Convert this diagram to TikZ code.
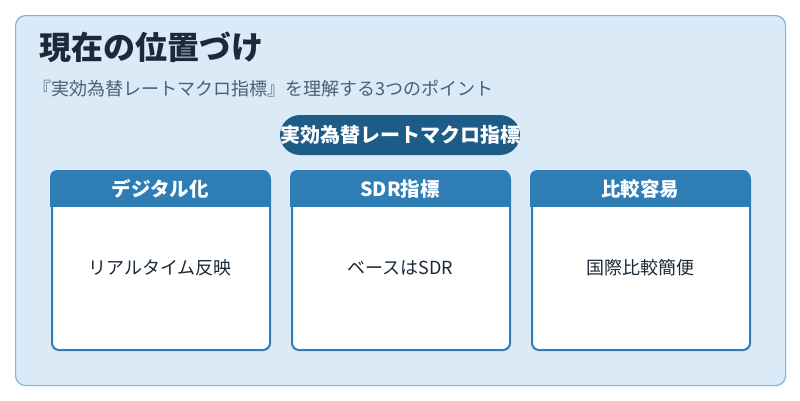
\documentclass[tikz,border=0pt]{standalone}
\usepackage{fontspec}
\setmainfont{Noto Sans CJK JP}
\definecolor{bg}{HTML}{DAEAF6}
\definecolor{frame}{HTML}{7FB3D8}
\definecolor{pill}{HTML}{1E5C88}
\definecolor{head}{HTML}{2E7DB5}
\definecolor{titlec}{HTML}{1B2A38}
\definecolor{subc}{HTML}{4A6074}
\tikzset{
  cardbox/.style={draw=head,line width=2pt,fill=white,rounded corners=7pt,minimum width=218pt,minimum height=178pt,anchor=north west},
  headbox/.style={fill=head,minimum width=220pt,minimum height=37pt,anchor=north west,text=white,font=\fontsize{19.5}{22}\selectfont\bfseries},
  bodytxt/.style={font=\fontsize{18}{21}\selectfont,text=titlec}
}
\begin{document}
\begin{tikzpicture}[x=1pt,y=-1pt]
\path[fill=white] (0,0) rectangle (800,400);
\useasboundingbox (0,0) rectangle (800,400);
\node[draw=frame,line width=1.2pt,fill=bg,rounded corners=10pt,minimum width=770pt,minimum height=370pt,anchor=north west] (outer) at (15,15) {};
\node[anchor=west,text=titlec,font=\fontsize{32}{36}\selectfont\bfseries] (title) at (36,47) {現在の位置づけ};
\node[anchor=west,text=subc,font=\fontsize{18}{21}\selectfont] (sub) at (30,89) {『実効為替レートマクロ指標』を理解する3つのポイント};
\node[fill=pill,rounded corners=20pt,minimum width=240pt,minimum height=40pt,text=white,font=\fontsize{20}{23}\selectfont\bfseries,inner sep=0pt] (pill) at (400,135) {実効為替レートマクロ指標};
\foreach \x/\h/\b/\n in {51/デジタル化/リアルタイム反映/a,291/SDR指標/ベースはSDR/b,531/比較容易/国際比較簡便/c}{
  \node[cardbox] (card\n) at (\x,171) {};
  \begin{scope}
  \clip[rounded corners=7pt] (\x-1,170) rectangle (\x+219,260);
  \node[headbox] (head\n) at (\x-1,170) {\h};
  \end{scope}
  \node[bodytxt] (body\n) at (\x+109,268) {\b};
}
\end{tikzpicture}
\end{document}
